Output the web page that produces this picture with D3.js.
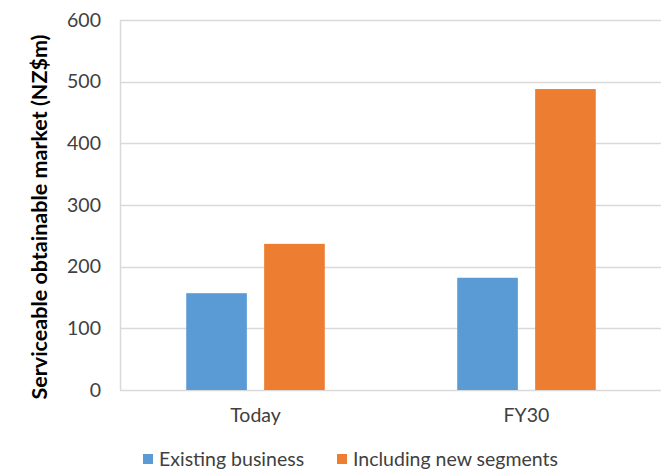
<!DOCTYPE html>
<html>
<head>
<meta charset="utf-8">
<script src="https://cdn.jsdelivr.net/npm/d3@7"></script>
<style>
  html, body { margin: 0; padding: 0; background: #fff; }
  svg { display: block; font-family: Lato, "Open Sans", sans-serif; }
</style>
</head>
<body>
<svg id="chart" width="661" height="472"></svg>
<script>
// Serviceable obtainable market, NZ$m
const categories = ["Today", "FY30"];
const seriesNames = ["Existing business", "Including new segments"];
const existingBusiness = [157, 182];
const includingNewSegments = [237, 488];
const seriesColors = ["#5b9bd5", "#ed7d31"];
const yTicks = [0, 100, 200, 300, 400, 500, 600];
const yTitle = "Serviceable obtainable market (NZ$m)";

const series = [existingBusiness, includingNewSegments];

const svg = d3.select("#chart");
const margin = { left: 120, right: 0, top: 20, bottom: 82 };
const W = 661, H = 472;
const plotW = 542, plotH = H - margin.top - margin.bottom;

const x = d3.scaleBand().domain(categories).range([margin.left, margin.left + plotW]).paddingInner(0).paddingOuter(0);
const inner = d3.scaleBand().domain(d3.range(series.length)).range([0, x.bandwidth()]).paddingInner(0.222).paddingOuter(0.85);
const y = d3.scaleLinear().domain([0, 600]).range([margin.top + plotH, margin.top]);

// Gridlines
svg.append("g")
  .selectAll("line")
  .data(yTicks)
  .join("line")
  .attr("x1", margin.left).attr("x2", margin.left + plotW)
  .attr("y1", d => Math.round(y(d)) + 0.5).attr("y2", d => Math.round(y(d)) + 0.5)
  .attr("stroke", "#d9d9d9").attr("stroke-width", 1.5);

// Left axis line
svg.append("line")
  .attr("x1", margin.left + 0.5).attr("x2", margin.left + 0.5)
  .attr("y1", y(600)).attr("y2", y(0))
  .attr("stroke", "#d9d9d9").attr("stroke-width", 1.5);

// Y tick labels
const yAxis = d3.axisLeft(y).tickValues(yTicks).tickSize(0).tickPadding(19);
const ga = svg.append("g").attr("transform", `translate(${margin.left},0)`).call(yAxis);
ga.select(".domain").remove();
ga.selectAll("text").attr("font-size", 19.5).attr("fill", "#404040").attr("font-family", "Lato");

// Bars
categories.forEach((c, ci) => {
  series.forEach((s, si) => {
    svg.append("rect")
      .attr("x", x(c) + inner(si))
      .attr("width", inner.bandwidth())
      .attr("y", y(s[ci]))
      .attr("height", y(0) - y(s[ci]))
      .attr("fill", seriesColors[si]);
  });
});

// Category labels
const xAxis = d3.axisBottom(x).tickSize(0).tickPadding(18);
const gx = svg.append("g").attr("transform", `translate(0,${y(0)})`).call(xAxis);
gx.select(".domain").remove();
gx.selectAll("text").attr("font-size", 19.5).attr("fill", "#404040").attr("font-family", "Lato");

// Y axis title
svg.append("text")
  .attr("transform", `translate(47,${(y(0) + y(600)) / 2 + 12}) rotate(-90)`)
  .attr("text-anchor", "middle")
  .attr("font-size", 21.5).attr("font-weight", "bold").attr("fill", "#000")
  .text(yTitle);

// Legend
const legendX = [143, 337];
const leg = svg.append("g");
seriesNames.forEach((name, i) => {
  leg.append("rect").attr("x", legendX[i]).attr("y", 454).attr("width", 10).attr("height", 10).attr("fill", seriesColors[i]);
  leg.append("text").attr("x", legendX[i] + 16).attr("y", 466)
    .attr("font-size", 19.5).attr("fill", "#404040").text(name);
});
</script>
</body>
</html>
